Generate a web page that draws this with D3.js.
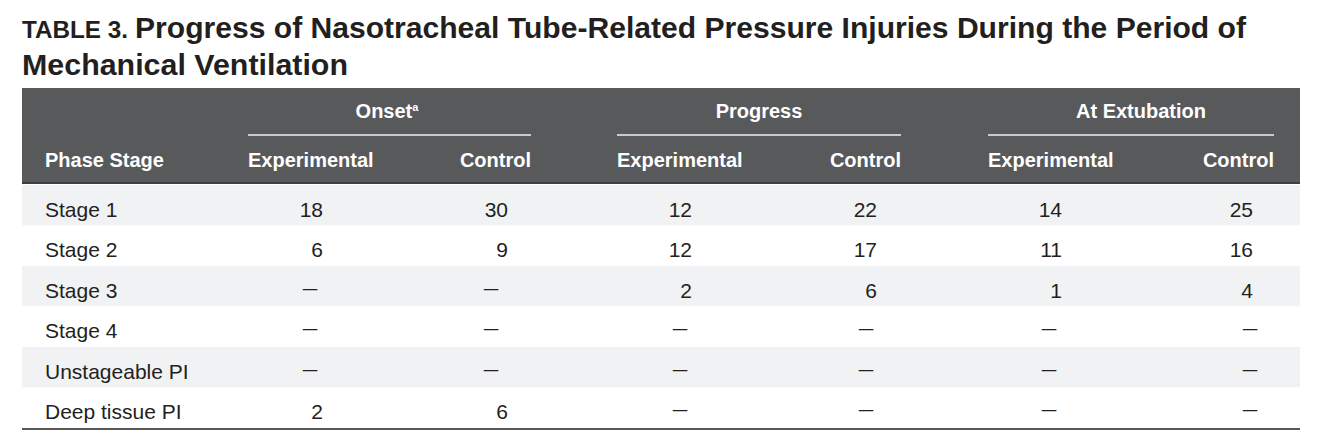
<!DOCTYPE html>
<html><head><meta charset="utf-8">
<script src="https://cdn.jsdelivr.net/npm/d3@7"></script>
<style>
html,body{margin:0;padding:0;background:#fff;}
svg{display:block;}
</style></head>
<body>
<svg id="chart" width="1324" height="437"></svg>
<script>
// ---- data ----
const titleLabel = "TABLE 3.";
const titleLine1 = "Progress of Nasotracheal Tube-Related Pressure Injuries During the Period of";
const titleLine2 = "Mechanical Ventilation";
const stubHeader = "Phase Stage";
const phases = ["Onset", "Progress", "At Extubation"];
const groups = ["Experimental", "Control"];
const stages = ["Stage 1", "Stage 2", "Stage 3", "Stage 4", "Unstageable PI", "Deep tissue PI"];
const onsetExperimental      = [18, 6, null, null, null, 2];
const onsetControl           = [30, 9, null, null, null, 6];
const progressExperimental   = [12, 12, 2, null, null, null];
const progressControl        = [22, 17, 6, null, null, null];
const extubationExperimental = [14, 11, 1, null, null, null];
const extubationControl      = [25, 16, 4, null, null, null];

const series = [onsetExperimental, onsetControl, progressExperimental, progressControl, extubationExperimental, extubationControl];
const colKeys = d3.range(series.length);

// ---- layout ----
const svg = d3.select("#chart");
const L = 22, R = 1300;
const hdrTop = 88, hdrBot = 183;
const bodyTop = 185, bodyBot = 428;
const FONT = "'Liberation Sans', Arial, Helvetica, sans-serif";
const ink = "#231f20";

// scales
const yRow = d3.scaleBand().domain(stages).range([bodyTop, bodyBot]).padding(0);
const xNumRight = d3.scaleOrdinal().domain(colKeys).range([323, 508, 692, 877, 1062, 1253]);
const xDash     = d3.scaleOrdinal().domain(colKeys).range([310, 491, 680, 866, 1049, 1250]);
const xHeadExpLeft  = d3.scaleOrdinal().domain(phases).range([248, 617, 988]);
const xHeadCtlRight = d3.scaleOrdinal().domain(phases).range([531, 901, 1274]);
const xSpanCenter   = d3.scaleOrdinal().domain(phases).range([387, 759, 1141]);

// ---- title ----
svg.append("text").attr("x", L).attr("y", 38)
  .attr("font-family", FONT).attr("font-weight", "bold")
  .attr("font-size", 24).attr("fill", ink).text(titleLabel)
  .attr("textLength", 106).attr("lengthAdjust", "spacingAndGlyphs");
svg.append("text").attr("x", 135).attr("y", 38)
  .attr("font-family", FONT).attr("font-weight", "bold")
  .attr("font-size", 29).attr("fill", ink).text(titleLine1)
  .attr("textLength", 1246 - 135).attr("lengthAdjust", "spacingAndGlyphs");
svg.append("text").attr("x", L).attr("y", 75)
  .attr("font-family", FONT).attr("font-weight", "bold")
  .attr("font-size", 29).attr("fill", ink).text(titleLine2)
  .attr("textLength", 348 - L).attr("lengthAdjust", "spacingAndGlyphs");

// ---- header ----
svg.append("rect").attr("x", L).attr("y", hdrTop).attr("width", R - L).attr("height", hdrBot - hdrTop)
  .attr("fill", "#58595b");
svg.append("line").attr("x1", L).attr("x2", R).attr("y1", hdrBot).attr("y2", hdrBot)
  .attr("stroke", "#3e3e40").attr("stroke-width", 2);

phases.forEach(p => {
  const x0 = xHeadExpLeft(p), x1 = xHeadCtlRight(p);
  const t = svg.append("text").attr("x", xSpanCenter(p)).attr("y", 118)
    .attr("text-anchor", "middle").attr("font-family", FONT).attr("font-weight", "bold")
    .attr("font-size", 20).attr("fill", "#fff");
  t.append("tspan").text(p);
  if (p === "Onset") {
    t.append("tspan").attr("font-size", 11).attr("dy", -7).text("a");
  }
  svg.append("line").attr("x1", x0).attr("x2", x1).attr("y1", 135).attr("y2", 135)
    .attr("stroke", "#c9cacc").attr("stroke-width", 2);
  svg.append("text").attr("x", x0).attr("y", 167).attr("font-family", FONT).attr("font-weight", "bold")
    .attr("font-size", 20).attr("fill", "#fff").text(groups[0]);
  svg.append("text").attr("x", x1).attr("y", 167).attr("text-anchor", "end").attr("font-family", FONT)
    .attr("font-weight", "bold").attr("font-size", 20).attr("fill", "#fff").text(groups[1]);
});
svg.append("text").attr("x", 45).attr("y", 167).attr("font-family", FONT).attr("font-weight", "bold")
  .attr("font-size", 20).attr("fill", "#fff").text(stubHeader);

// ---- body ----
svg.selectAll("rect.row").data(stages).join("rect").attr("class", "row")
  .attr("x", L).attr("width", R - L)
  .attr("y", d => yRow(d)).attr("height", yRow.bandwidth())
  .attr("fill", (d, i) => i % 2 === 0 ? "#f1f2f3" : "#ffffff");

const base = d => yRow(d) + yRow.bandwidth() * 0.78;

svg.selectAll("text.stub").data(stages).join("text").attr("class", "stub")
  .attr("x", 45).attr("y", d => base(d))
  .attr("font-family", FONT).attr("font-size", 21).attr("fill", ink)
  .text(d => d);

colKeys.forEach(c => {
  const cells = series[c].map((v, i) => ({v, s: stages[i]}));
  svg.selectAll(`text.v${c}`).data(cells.filter(d => d.v != null)).join("text")
    .attr("class", `v${c}`)
    .attr("x", xNumRight(c)).attr("y", d => base(d.s))
    .attr("text-anchor", "end")
    .attr("font-family", FONT).attr("font-size", 21).attr("fill", ink)
    .text(d => d.v);
  svg.selectAll(`text.d${c}`).data(cells.filter(d => d.v == null)).join("text")
    .attr("class", `d${c}`)
    .attr("transform", d => `translate(${xDash(c)},${base(d.s) - 3}) scale(1.25,1)`)
    .attr("text-anchor", "middle")
    .attr("font-family", FONT).attr("font-size", 21).attr("fill", ink)
    .text("\u2013");
});

svg.append("line").attr("x1", L).attr("x2", R).attr("y1", bodyBot + 1).attr("y2", bodyBot + 1)
  .attr("stroke", ink).attr("stroke-width", 1.5);
</script>
</body></html>
